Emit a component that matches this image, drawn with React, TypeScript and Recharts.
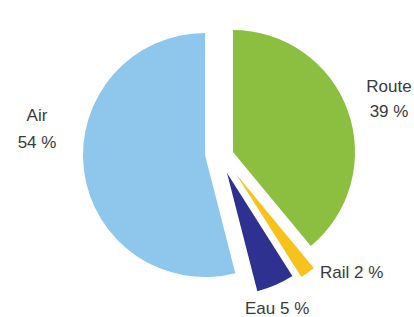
import React from "react";
import { PieChart, Pie, Cell, Sector } from "recharts";

// transport modes, clockwise from 12 o'clock
const modes = ["Route", "Rail", "Eau", "Air"];
const shares = [39, 2, 5, 54];
const colors = ["#8cbf3f", "#f6c21c", "#2f3191", "#8ec7eb"];

const data = modes.map((name, i) => ({ name, value: shares[i] }));

// how far each slice is pulled out of the pie
const explode: Record<string, { dx: number; dy: number }> = {
  Route: { dx: 28, dy: -3 },
  Rail: { dx: 31, dy: 19 },
  Eau: { dx: 22, dy: 18 },
  Air: { dx: 0, dy: 0 },
};

// label placement relative to the pie centre
const labelPos: Record<
  string,
  { dx: number; dy: number; anchor: "start" | "middle"; split: boolean; gap: number }
> = {
  Route: { dx: 184, dy: -63, anchor: "middle", split: true, gap: 25 },
  Rail: { dx: 115, dy: 123, anchor: "start", split: false, gap: 0 },
  Eau: { dx: 40, dy: 159, anchor: "start", split: false, gap: 0 },
  Air: { dx: -168, dy: -34, anchor: "middle", split: true, gap: 27 },
};

const renderShape = (props: any) => {
  const off = explode[props.name] || { dx: 0, dy: 0 };
  return (
    <Sector
      cx={props.cx + off.dx}
      cy={props.cy + off.dy}
      innerRadius={props.innerRadius}
      outerRadius={props.outerRadius}
      startAngle={props.startAngle}
      endAngle={props.endAngle}
      fill={props.fill}
      stroke="none"
    />
  );
};

const renderLabel = (props: any) => {
  const { cx, cy, name, value } = props;
  const pos = labelPos[name];
  const x = cx + pos.dx;
  const y = cy + pos.dy;
  return (
    <text
      x={x}
      y={y}
      textAnchor={pos.anchor}
      fill="#3a3a3a"
      fontSize={17}
      fontFamily="Liberation Sans, Arial, sans-serif"
    >
      {pos.split ? (
        <>
          <tspan x={x} y={y}>{name}</tspan>
          <tspan x={x} y={y + pos.gap}>{`${value} %`}</tspan>
        </>
      ) : (
        `${name} ${value} %`
      )}
    </text>
  );
};

export default function App() {
  return (
    <div style={{ position: "absolute", left: 0, top: 0, background: "#fff" }}>
      <PieChart width={414} height={317}>
        <Pie
          data={data}
          dataKey="value"
          nameKey="name"
          cx={200}
          cy={150}
          outerRadius={122}
          startAngle={90}
          endAngle={-270}
          stroke="none"
          shape={renderShape}
          label={renderLabel}
          labelLine={false}
          isAnimationActive={false}
        >
          {data.map((d, i) => (
            <Cell key={d.name} fill={colors[i]} />
          ))}
        </Pie>
      </PieChart>
    </div>
  );
}
